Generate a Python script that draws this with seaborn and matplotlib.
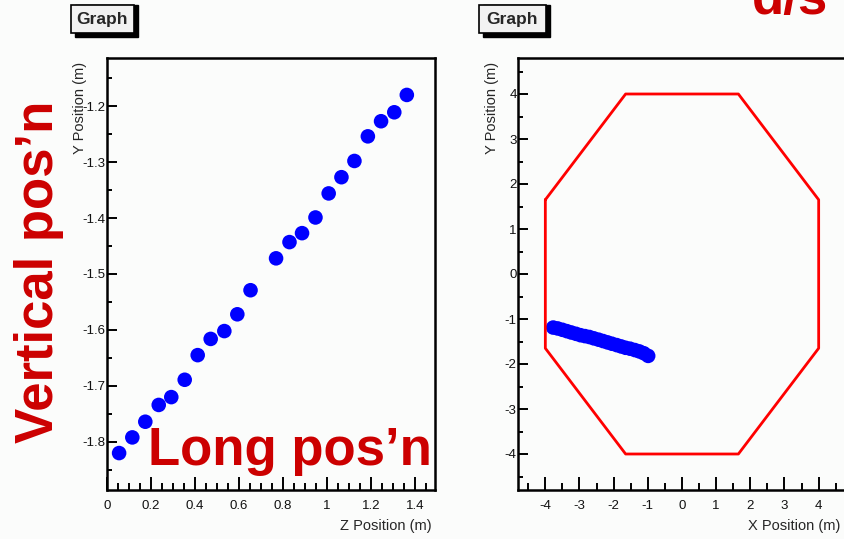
import matplotlib
matplotlib.use("Agg")
import matplotlib.pyplot as plt
import seaborn as sns
from matplotlib.patches import Rectangle
from matplotlib.ticker import MultipleLocator

# left panel: Y vs Z position of hits
z_pos = [0.055, 0.115, 0.174, 0.235, 0.292, 0.353, 0.412, 0.471, 0.533, 0.592, 0.652,
         0.768, 0.829, 0.886, 0.947, 1.007, 1.065, 1.124, 1.185, 1.245, 1.305, 1.362]
y_pos = [-1.820, -1.792, -1.764, -1.734, -1.720, -1.689, -1.645, -1.616, -1.602, -1.572, -1.529,
         -1.472, -1.443, -1.427, -1.399, -1.356, -1.327, -1.298, -1.254, -1.227, -1.211, -1.180]

# right panel: Y vs X position of hits
x_hit = [-3.77, -3.64, -3.50, -3.37, -3.24, -3.10, -2.97, -2.84, -2.71, -2.58, -2.44,
         -2.31, -2.18, -2.05, -1.91, -1.78, -1.65, -1.52, -1.38, -1.25, -1.12, -0.99]
y_hit = [-1.19, -1.21, -1.24, -1.27, -1.30, -1.33, -1.36, -1.38, -1.40, -1.43, -1.46,
         -1.49, -1.52, -1.55, -1.58, -1.61, -1.64, -1.66, -1.69, -1.72, -1.76, -1.82]

# detector outline (octagon)
oct_x = [-4.0, -1.65, 1.65, 4.0, 4.0, 1.65, -1.65, -4.0, -4.0]
oct_y = [1.65, 4.0, 4.0, 1.65, -1.65, -4.0, -4.0, -1.65, 1.65]

bg = "#fbfcfb"
sns.set_style("white")
plt.rcParams["font.family"] = ["Liberation Sans", "DejaVu Sans"]
plt.rcParams["axes.unicode_minus"] = False

fig = plt.figure(figsize=(8.45, 5.39), dpi=100, facecolor=bg)
W, H = 845.0, 539.0

def px_axes(x0, x1, y0, y1):
    return fig.add_axes([x0 / W, 1 - y1 / H, (x1 - x0) / W, (y1 - y0) / H])

ax1 = px_axes(107, 435, 58, 490)
ax2 = px_axes(518, 846, 58, 490)

sns.scatterplot(x=z_pos, y=y_pos, ax=ax1, color="#0000ff", s=110, edgecolor="none")
sns.lineplot(x=oct_x, y=oct_y, ax=ax2, color="#ff0000", lw=2, sort=False, estimator=None)
sns.scatterplot(x=x_hit, y=y_hit, ax=ax2, color="#0000ff", s=110, edgecolor="none")

ax1.set_xlim(0, 1.49)
ax1.set_ylim(-1.886, -1.114)
ax1.xaxis.set_major_locator(MultipleLocator(0.2))
ax1.xaxis.set_minor_locator(MultipleLocator(0.05))
ax1.yaxis.set_major_locator(MultipleLocator(0.1))
ax1.yaxis.set_minor_locator(MultipleLocator(0.05))
ax1.set_xticks(ax1.get_xticks())
ax1.set_xticklabels([f"{t:g}" for t in ax1.get_xticks()])
ax1.set_xlim(0, 1.49)

ax2.set_xlim(-4.8, 4.8)
ax2.set_ylim(-4.8, 4.8)
ax2.xaxis.set_major_locator(MultipleLocator(1))
ax2.xaxis.set_minor_locator(MultipleLocator(0.5))
ax2.yaxis.set_major_locator(MultipleLocator(1))
ax2.yaxis.set_minor_locator(MultipleLocator(0.5))

for ax in (ax1, ax2):
    ax.set_facecolor(bg)
    for sp in ax.spines.values():
        sp.set_linewidth(1.8)
        sp.set_color("black")
    ax.tick_params(which="both", bottom=True, left=True, top=False, right=False,
                   color="black", labelcolor="#111111")
    ax.tick_params(axis="x", which="major", direction="in", length=9.5, width=1.4,
                   pad=7, labelsize=9.5)
    ax.tick_params(axis="x", which="minor", direction="in", length=5, width=1.4)
    ax.tick_params(axis="y", which="major", direction="in", length=7, width=1.4,
                   pad=1, labelsize=9.5)
    ax.tick_params(axis="y", which="minor", direction="in", length=3.6, width=1.4)
    ax.set_xlabel("")
    ax.set_ylabel("")

# axis titles, ROOT style (placed at the axis ends)
fig.text(80 / W, 1 - 62 / H, "Y Position (m)", rotation=90, ha="center", va="top", fontsize=10.5)
fig.text(492 / W, 1 - 62 / H, "Y Position (m)", rotation=90, ha="center", va="top", fontsize=10.5)
fig.text(432 / W, 1 - 526 / H, "Z Position (m)", ha="right", va="center", fontsize=10.5)
fig.text(840 / W, 1 - 526 / H, "X Position (m)", ha="right", va="center", fontsize=10.5)

# "Graph" title boxes with drop shadow
for bx0, bx1 in [(71, 134), (479, 546)]:
    fig.add_artist(Rectangle(((bx0 + 4) / W, 1 - 37 / H), (bx1 - bx0) / W, 32 / H,
                             transform=fig.transFigure, facecolor="black", edgecolor="black"))
    fig.add_artist(Rectangle((bx0 / W, 1 - 33 / H), (bx1 - bx0) / W, 28 / H,
                             transform=fig.transFigure, facecolor="#f2f2f2",
                             edgecolor="black", lw=1.2))
    fig.text((bx0 + bx1) / 2 / W, 1 - 19.5 / H, "Graph", ha="center", va="center",
             fontsize=12.5, fontweight="bold")

# red annotations
red = "#cc0000"
fig.text(53 / W, 1 - 443 / H, "Vertical pos\u2019n", rotation=90, rotation_mode="anchor",
         ha="left", va="baseline", color=red, fontsize=38, fontweight="bold")
fig.text(148 / W, 1 - 465 / H, "Long pos\u2019n", ha="left", va="baseline",
         color=red, fontsize=38, fontweight="bold")
fig.text(752 / W, 1 - 14 / H, "d/s", ha="left", va="baseline",
         color=red, fontsize=38, fontweight="bold")

fig.savefig("out.png", dpi=100, facecolor=bg)
